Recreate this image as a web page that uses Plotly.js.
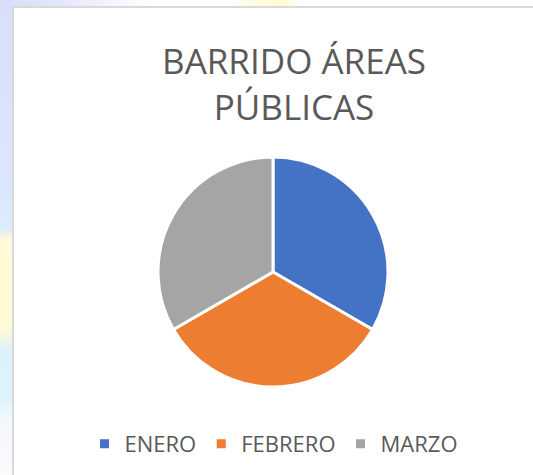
<!DOCTYPE html>
<html>
<head>
<meta charset="utf-8">
<script src="https://cdn.plot.ly/plotly-3.0.1.min.js"></script>
<style>
html,body{margin:0;padding:0;width:533px;height:475px;overflow:hidden;}
body{background:linear-gradient(to bottom,#d9defb 0px,#dce6fc 190px,#dcecfd 228px,#fffbd8 240px,#fffbd6 330px,#dcf1fd 350px,#def2fd 398px,#f3f7fc 420px,#fbfbfb 475px);}
#top{position:absolute;left:0;top:0;width:533px;height:7px;
background:linear-gradient(to right,#d9defb 0px,#e4e6fb 60px,#ffffff 150px,#ffffff 230px,#fffde0 260px,#fffbcf 280px,#ffffff 300px,#ffffff 533px);}
#chart{position:absolute;left:12px;top:6px;width:521px;height:469px;border-left:2px solid #d9d9d9;border-top:2px solid #d9d9d9;background:#fff;}
</style>
</head>
<body>
<div id="top"></div>
<div id="chart"></div>
<script>
var categories = ["ENERO", "FEBRERO", "MARZO"];
var values = [1, 1, 1];
var colors = ["#4472C4", "#ED7D31", "#A5A5A5"];
var titleText = "BARRIDO ÁREAS<br>PÚBLICAS";

var W = 519, H = 467;
var cx = 259, cy = 264, r = 115;

var trace = {
  type: "pie",
  labels: categories,
  values: values,
  marker: {colors: colors, line: {color: "#ffffff", width: 3}},
  sort: false,
  direction: "clockwise",
  rotation: 0,
  textinfo: "none",
  hoverinfo: "none",
  domain: {x: [(cx - r) / W, (cx + r) / W], y: [(H - cy - r) / H, (H - cy + r) / H]}
};

var layout = {
  width: W, height: H,
  margin: {l: 0, r: 0, t: 0, b: 0},
  paper_bgcolor: "#ffffff",
  font: {family: "Open Sans, sans-serif", color: "#595959"},
  title: {
    text: titleText,
    font: {size: 35, color: "#595959", family: "Open Sans, sans-serif"},
    x: 280 / W, xanchor: "center",
    y: 1 - 66 / H, yanchor: "top", yref: "paper"
  },
  showlegend: true,
  legend: {
    orientation: "h",
    x: 0.5, xanchor: "center",
    y: (H - 436) / H, yanchor: "middle",
    font: {size: 22, color: "#595959"},
    itemclick: false, itemdoubleclick: false
  }
};

Plotly.newPlot("chart", [trace], layout, {displayModeBar: false, staticPlot: true});
</script>
</body>
</html>
